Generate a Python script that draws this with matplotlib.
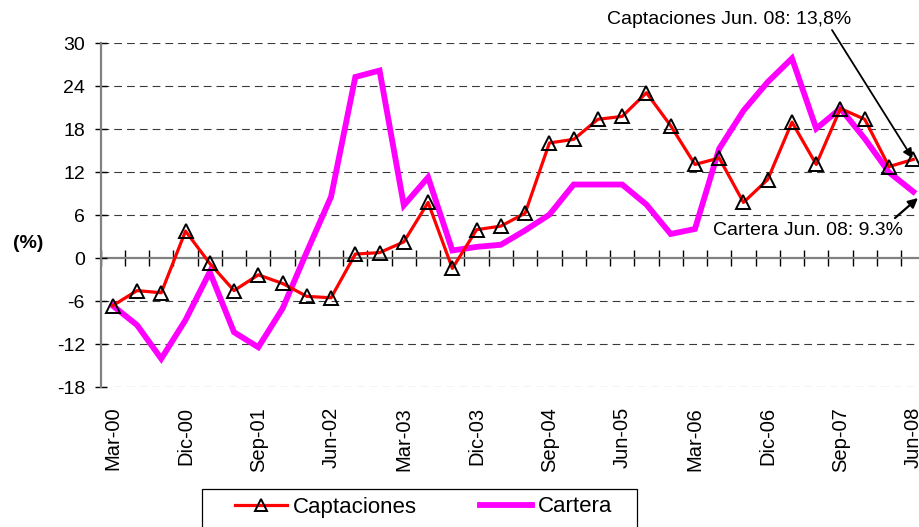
import matplotlib
matplotlib.use("Agg")
import matplotlib.pyplot as plt
from matplotlib.patches import Rectangle
from matplotlib.lines import Line2D
import numpy as np

plt.rcParams['font.family'] = ['Liberation Sans', 'DejaVu Sans']

# ---- data ----
tick_labels = ['Mar-00', 'Dic-00', 'Sep-01', 'Jun-02', 'Mar-03', 'Dic-03',
               'Sep-04', 'Jun-05', 'Mar-06', 'Dic-06', 'Sep-07', 'Jun-08']
captaciones = [-6.6, -4.5, -4.8, 3.8, -0.7, -4.5, -2.3, -3.5, -5.3, -5.5,
               0.6, 0.8, 2.3, 7.8, -1.4, 4.0, 4.5, 6.3, 16.1, 16.6,
               19.4, 19.8, 23.1, 18.5, 13.1, 14.0, 7.8, 11.0, 19.0, 13.1,
               20.9, 19.4, 12.8, 13.8]
cartera = [-6.6, -9.3, -14.0, -8.6, -1.9, -10.3, -12.4, -7.0, 0.9, 8.6,
           25.3, 26.2, 7.4, 11.3, 1.1, 1.6, 1.9, 3.9, 6.1, 10.3,
           10.3, 10.3, 7.5, 3.4, 4.1, 15.3, 20.6, 24.6, 27.9, 18.1,
           20.9, 16.7, 12.0, 9.3]
y_ticks = [-18, -12, -6, 0, 6, 12, 18, 24, 30]
label_capt = 'Captaciones Jun. 08: 13,8%'
label_cart = 'Cartera Jun. 08: 9.3%'

W, H = 920, 527
fig = plt.figure(figsize=(W / 100, H / 100), dpi=100)
left_px, right_px, top_px, bot_px = 100.6, 925.4, 43.3, 387.4
ax = fig.add_axes([left_px / W, 1 - bot_px / H, (right_px - left_px) / W,
                   (bot_px - top_px) / H])

x = np.arange(len(captaciones))
n = len(x)

# gridlines
for yv in y_ticks:
    if yv != 0:
        ax.axhline(yv, color='#3a3a3a', lw=0.8, dashes=(7, 4.5), zorder=1)

ax.plot(x, cartera, color='#FF00FF', lw=4.2, zorder=3, solid_joinstyle='miter',
        label='Cartera')
ax.plot(x, captaciones, color='#FF0000', lw=2.3, marker='^', markersize=10,
        markerfacecolor='none', markeredgecolor='black', markeredgewidth=1.4,
        zorder=4, label='Captaciones')

ax.set_xlim(-0.5, n - 0.5)
ax.set_ylim(-18, 30)

# y axis
ax.set_yticks(y_ticks)
ax.set_yticklabels([str(v) for v in y_ticks])
ax.tick_params(axis='y', direction='inout', length=8.6, width=1.0,
               colors='black', labelsize=14, pad=7)
for s in ['top', 'right', 'bottom']:
    ax.spines[s].set_visible(False)
ax.spines['left'].set_color('#808080')
ax.spines['left'].set_linewidth(1.6)

# x tick labels at bottom
ax.set_xticks(x[::3])
ax.set_xticklabels(tick_labels, rotation=90)
ax.tick_params(axis='x', length=0, labelsize=14.5, pad=14)

# zero axis with category tick marks
sec = ax.secondary_xaxis(18 / 48)
sec.set_xticks(np.arange(-0.5, n, 1.0))
sec.set_xticklabels([])
sec.tick_params(direction='inout', length=11, width=1.0, colors='black')
sec.spines['bottom'].set_color('#808080')
sec.spines['bottom'].set_linewidth(1.6)
sec.spines['bottom'].set_zorder(2)

# (%) label
fig.text(28 / W, 1 - 244 / H, '(%)', fontsize=14, fontweight='bold',
         ha='center', va='center')

# annotations
fig.text(729 / W, 1 - 20 / H, label_capt, fontsize=14, ha='center', va='center')
ax.annotate('', xy=(x[-1], captaciones[-1]), xycoords='data',
            xytext=(832, H - 30), textcoords='figure pixels',
            arrowprops=dict(arrowstyle='-|>', color='black', lw=1.3,
                            mutation_scale=14, shrinkA=0, shrinkB=1),
            zorder=6)
fig.text(808 / W, 1 - 230 / H, label_cart, fontsize=14, ha='center', va='center')
ax.annotate('', xy=(918, H - 198), xycoords='figure pixels',
            xytext=(895, H - 218), textcoords='figure pixels',
            arrowprops=dict(arrowstyle='-|>', color='black', lw=1.6,
                            mutation_scale=14, shrinkA=0, shrinkB=0),
            zorder=6)

# legend box + legend
fig.patches.append(Rectangle((202 / W, -0.02), 435 / W, (H - 489) / H + 0.02,
                             transform=fig.transFigure, facecolor='white',
                             edgecolor='black', lw=0.9, zorder=5))
handles = [Line2D([], [], color='#FF0000', lw=2.3, marker='^', markersize=9,
                  markerfacecolor='none', markeredgecolor='black',
                  markeredgewidth=1.4),
           Line2D([], [], color='#FF00FF', lw=4.2)]
leg = fig.legend(handles, ['Captaciones', 'Cartera'], ncol=2, frameon=False,
                 loc='center left', bbox_to_anchor=(235 / W, 1 - 507 / H),
                 borderpad=0, borderaxespad=0, fontsize=16,
                 handlelength=2.35, handletextpad=0.25, columnspacing=2.85)
leg.set_zorder(6)

fig.savefig('out.png', dpi=100)
